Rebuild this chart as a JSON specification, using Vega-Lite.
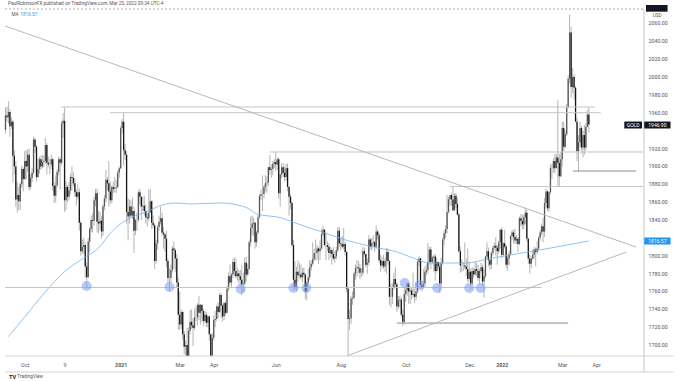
{
  "$schema": "https://vega.github.io/schema/vega-lite/v6.json",
  "width": 648,
  "height": 347,
  "autosize": {"type": "none"},
  "padding": {"left": 0, "top": 9, "right": 31, "bottom": 25},
  "background": "#ffffff",
  "config": {"view": {"stroke": null}, "font": "Roboto",
    "axisX": {"title": null, "ticks": false, "grid": false, "domain": false, "labelPadding": 6, "labelFontSize": 5.3, "labelColor": "#555555", "labelOverlap": false, "labelFlush": false},
    "axisY": {"title": null, "ticks": false, "grid": false, "domain": false, "labels": false}
  },
  "datasets": {
    "candles": [
      {"i":0,"o":1941,"h":1966,"l":1937,"c":1957},{"i":1,"o":1957,"h":1967,"l":1950,"c":1955},{"i":2,"o":1955,"h":1973,"l":1948,"c":1961},{"i":3,"o":1961,"h":1964,"l":1933,"c":1945},{"i":4,"o":1945,"h":1955,"l":1942,"c":1950},
      {"i":5,"o":1950,"h":1952,"l":1882,"c":1912},{"i":6,"o":1912,"h":1918,"l":1891,"c":1900},{"i":7,"o":1900,"h":1906,"l":1855,"c":1863},{"i":8,"o":1863,"h":1882,"l":1848,"c":1868},{"i":9,"o":1868,"h":1877,"l":1851,"c":1861},
      {"i":10,"o":1861,"h":1882,"l":1851,"c":1880},{"i":11,"o":1880,"h":1901,"l":1876,"c":1897},{"i":12,"o":1897,"h":1899,"l":1872,"c":1886},{"i":13,"o":1886,"h":1917,"l":1885,"c":1906},{"i":14,"o":1906,"h":1918,"l":1885,"c":1900},
      {"i":15,"o":1900,"h":1919,"l":1894,"c":1913},{"i":16,"o":1913,"h":1920,"l":1873,"c":1877},{"i":17,"o":1877,"h":1891,"l":1874,"c":1887},{"i":18,"o":1887,"h":1898,"l":1882,"c":1893},{"i":19,"o":1893,"h":1933,"l":1891,"c":1930},
      {"i":20,"o":1930,"h":1932,"l":1915,"c":1922},{"i":21,"o":1922,"h":1924,"l":1883,"c":1888},{"i":22,"o":1888,"h":1909,"l":1887,"c":1897},{"i":23,"o":1897,"h":1911,"l":1892,"c":1908},{"i":24,"o":1908,"h":1912,"l":1896,"c":1900},
      {"i":25,"o":1900,"h":1913,"l":1898,"c":1905},{"i":26,"o":1905,"h":1912,"l":1899,"c":1906},{"i":27,"o":1906,"h":1932,"l":1903,"c":1924},{"i":28,"o":1924,"h":1926,"l":1891,"c":1904},{"i":29,"o":1904,"h":1911,"l":1899,"c":1902},
      {"i":30,"o":1902,"h":1908,"l":1891,"c":1902},{"i":31,"o":1902,"h":1913,"l":1897,"c":1908},{"i":32,"o":1908,"h":1910,"l":1873,"c":1878},{"i":33,"o":1878,"h":1882,"l":1859,"c":1867},{"i":34,"o":1867,"h":1890,"l":1860,"c":1879},
      {"i":35,"o":1879,"h":1897,"l":1877,"c":1894},{"i":36,"o":1894,"h":1911,"l":1890,"c":1908},{"i":37,"o":1908,"h":1910,"l":1874,"c":1904},{"i":38,"o":1904,"h":1951,"l":1901,"c":1948},{"i":39,"o":1948,"h":1960,"l":1932,"c":1951},
      {"i":40,"o":1951,"h":1966,"l":1849,"c":1862},{"i":41,"o":1862,"h":1883,"l":1851,"c":1877},{"i":42,"o":1877,"h":1879,"l":1860,"c":1866},{"i":43,"o":1866,"h":1882,"l":1862,"c":1873},{"i":44,"o":1873,"h":1892,"l":1869,"c":1888},
      {"i":45,"o":1888,"h":1900,"l":1873,"c":1887},{"i":46,"o":1887,"h":1894,"l":1878,"c":1881},{"i":47,"o":1881,"h":1887,"l":1866,"c":1871},{"i":48,"o":1871,"h":1874,"l":1856,"c":1866},{"i":49,"o":1866,"h":1881,"l":1863,"c":1871},
      {"i":50,"o":1871,"h":1875,"l":1828,"c":1837},{"i":51,"o":1837,"h":1839,"l":1800,"c":1805},{"i":52,"o":1805,"h":1818,"l":1802,"c":1810},{"i":53,"o":1810,"h":1820,"l":1802,"c":1812},{"i":54,"o":1812,"h":1815,"l":1775,"c":1788},
      {"i":55,"o":1788,"h":1792,"l":1764,"c":1776},{"i":56,"o":1776,"h":1820,"l":1775,"c":1816},{"i":57,"o":1816,"h":1832,"l":1804,"c":1830},{"i":58,"o":1830,"h":1845,"l":1826,"c":1840},{"i":59,"o":1840,"h":1848,"l":1826,"c":1839},
      {"i":60,"o":1839,"h":1866,"l":1833,"c":1862},{"i":61,"o":1862,"h":1875,"l":1855,"c":1870},{"i":62,"o":1870,"h":1875,"l":1826,"c":1838},{"i":63,"o":1838,"h":1850,"l":1825,"c":1836},{"i":64,"o":1836,"h":1849,"l":1829,"c":1839},
      {"i":65,"o":1839,"h":1844,"l":1819,"c":1827},{"i":66,"o":1827,"h":1857,"l":1822,"c":1855},{"i":67,"o":1855,"h":1868,"l":1851,"c":1864},{"i":68,"o":1864,"h":1896,"l":1860,"c":1885},{"i":69,"o":1885,"h":1888,"l":1873,"c":1881},
      {"i":70,"o":1881,"h":1906,"l":1855,"c":1872},{"i":71,"o":1872,"h":1883,"l":1858,"c":1862},{"i":72,"o":1862,"h":1879,"l":1859,"c":1877},{"i":73,"o":1877,"h":1883,"l":1870,"c":1875},{"i":74,"o":1875,"h":1888,"l":1871,"c":1876},
      {"i":75,"o":1876,"h":1885,"l":1870,"c":1877},{"i":76,"o":1877,"h":1896,"l":1875,"c":1893},{"i":77,"o":1893,"h":1900,"l":1887,"c":1898},{"i":78,"o":1898,"h":1945,"l":1897,"c":1943},{"i":79,"o":1943,"h":1953,"l":1937,"c":1950},
      {"i":80,"o":1950,"h":1960,"l":1901,"c":1918},{"i":81,"o":1918,"h":1925,"l":1907,"c":1913},{"i":82,"o":1913,"h":1917,"l":1836,"c":1849},{"i":83,"o":1849,"h":1864,"l":1817,"c":1844},{"i":84,"o":1844,"h":1863,"l":1836,"c":1855},
      {"i":85,"o":1855,"h":1862,"l":1842,"c":1845},{"i":86,"o":1845,"h":1865,"l":1841,"c":1850},{"i":87,"o":1850,"h":1855,"l":1803,"c":1828},{"i":88,"o":1828,"h":1841,"l":1823,"c":1840},{"i":89,"o":1840,"h":1848,"l":1828,"c":1840},
      {"i":90,"o":1840,"h":1873,"l":1838,"c":1871},{"i":91,"o":1871,"h":1875,"l":1857,"c":1866},{"i":92,"o":1866,"h":1866,"l":1840,"c":1855},{"i":93,"o":1855,"h":1866,"l":1850,"c":1856},{"i":94,"o":1856,"h":1867,"l":1845,"c":1850},
      {"i":95,"o":1850,"h":1857,"l":1836,"c":1843},{"i":96,"o":1843,"h":1848,"l":1833,"c":1842},{"i":97,"o":1842,"h":1874,"l":1839,"c":1848},{"i":98,"o":1848,"h":1875,"l":1849,"c":1861},{"i":99,"o":1861,"h":1862,"l":1830,"c":1837},
      {"i":100,"o":1837,"h":1845,"l":1831,"c":1834},{"i":101,"o":1834,"h":1836,"l":1785,"c":1794},{"i":102,"o":1794,"h":1818,"l":1791,"c":1814},{"i":103,"o":1814,"h":1834,"l":1807,"c":1832},{"i":104,"o":1832,"h":1845,"l":1828,"c":1838},
      {"i":105,"o":1838,"h":1855,"l":1835,"c":1842},{"i":106,"o":1842,"h":1848,"l":1822,"c":1826},{"i":107,"o":1826,"h":1832,"l":1808,"c":1824},{"i":108,"o":1824,"h":1825,"l":1804,"c":1819},{"i":109,"o":1819,"h":1828,"l":1787,"c":1794},
      {"i":110,"o":1794,"h":1797,"l":1769,"c":1775},{"i":111,"o":1775,"h":1786,"l":1760,"c":1775},{"i":112,"o":1775,"h":1790,"l":1770,"c":1784},{"i":113,"o":1784,"h":1811,"l":1781,"c":1808},{"i":114,"o":1808,"h":1816,"l":1785,"c":1806},
      {"i":115,"o":1806,"h":1808,"l":1782,"c":1797},{"i":116,"o":1797,"h":1802,"l":1764,"c":1770},{"i":117,"o":1770,"h":1775,"l":1717,"c":1734},{"i":118,"o":1734,"h":1760,"l":1717,"c":1723},{"i":119,"o":1723,"h":1740,"l":1718,"c":1737},
      {"i":120,"o":1737,"h":1738,"l":1706,"c":1712},{"i":121,"o":1712,"h":1716,"l":1690,"c":1698},{"i":122,"o":1698,"h":1705,"l":1687,"c":1700},{"i":123,"o":1700,"h":1719,"l":1676,"c":1683},{"i":124,"o":1683,"h":1720,"l":1682,"c":1716},
      {"i":125,"o":1716,"h":1739,"l":1712,"c":1726},{"i":126,"o":1726,"h":1740,"l":1718,"c":1722},{"i":127,"o":1722,"h":1730,"l":1699,"c":1719},{"i":128,"o":1719,"h":1740,"l":1717,"c":1731},{"i":129,"o":1731,"h":1743,"l":1727,"c":1731},
      {"i":130,"o":1731,"h":1747,"l":1722,"c":1745},{"i":131,"o":1745,"h":1755,"l":1728,"c":1736},{"i":132,"o":1736,"h":1746,"l":1723,"c":1745},{"i":133,"o":1745,"h":1745,"l":1726,"c":1738},{"i":134,"o":1738,"h":1741,"l":1721,"c":1727},
      {"i":135,"o":1727,"h":1738,"l":1725,"c":1734},{"i":136,"o":1734,"h":1737,"l":1720,"c":1725},{"i":137,"o":1725,"h":1734,"l":1720,"c":1732},{"i":138,"o":1732,"h":1733,"l":1705,"c":1712},{"i":139,"o":1712,"h":1712,"l":1680,"c":1685},
      {"i":140,"o":1685,"h":1713,"l":1677,"c":1708},{"i":141,"o":1708,"h":1733,"l":1705,"c":1728},{"i":142,"o":1728,"h":1738,"l":1720,"c":1729},{"i":143,"o":1729,"h":1745,"l":1727,"c":1743},{"i":144,"o":1743,"h":1748,"l":1730,"c":1737},
      {"i":145,"o":1737,"h":1758,"l":1736,"c":1756},{"i":146,"o":1756,"h":1758,"l":1730,"c":1744},{"i":147,"o":1744,"h":1746,"l":1726,"c":1732},{"i":148,"o":1732,"h":1748,"l":1728,"c":1747},{"i":149,"o":1747,"h":1749,"l":1733,"c":1736},
      {"i":150,"o":1736,"h":1766,"l":1735,"c":1763},{"i":151,"o":1763,"h":1781,"l":1760,"c":1777},{"i":152,"o":1777,"h":1790,"l":1767,"c":1770},{"i":153,"o":1770,"h":1781,"l":1764,"c":1779},{"i":154,"o":1779,"h":1797,"l":1775,"c":1793},
      {"i":155,"o":1793,"h":1798,"l":1777,"c":1783},{"i":156,"o":1783,"h":1797,"l":1775,"c":1777},{"i":157,"o":1777,"h":1787,"l":1772,"c":1780},{"i":158,"o":1780,"h":1784,"l":1769,"c":1777},{"i":159,"o":1777,"h":1784,"l":1766,"c":1773},
      {"i":160,"o":1773,"h":1790,"l":1756,"c":1768},{"i":161,"o":1768,"h":1781,"l":1759,"c":1769},{"i":162,"o":1769,"h":1798,"l":1767,"c":1792},{"i":163,"o":1792,"h":1799,"l":1771,"c":1779},{"i":164,"o":1779,"h":1791,"l":1777,"c":1785},
      {"i":165,"o":1785,"h":1818,"l":1784,"c":1815},{"i":166,"o":1815,"h":1844,"l":1810,"c":1831},{"i":167,"o":1831,"h":1845,"l":1823,"c":1836},{"i":168,"o":1836,"h":1843,"l":1822,"c":1837},{"i":169,"o":1837,"h":1838,"l":1808,"c":1815},
      {"i":170,"o":1815,"h":1828,"l":1810,"c":1826},{"i":171,"o":1826,"h":1846,"l":1824,"c":1843},{"i":172,"o":1843,"h":1869,"l":1842,"c":1867},{"i":173,"o":1867,"h":1874,"l":1862,"c":1869},{"i":174,"o":1869,"h":1890,"l":1850,"c":1869},
      {"i":175,"o":1869,"h":1879,"l":1864,"c":1877},{"i":176,"o":1877,"h":1890,"l":1872,"c":1881},{"i":177,"o":1881,"h":1889,"l":1870,"c":1882},{"i":178,"o":1882,"h":1900,"l":1878,"c":1899},{"i":179,"o":1899,"h":1913,"l":1891,"c":1896},
      {"i":180,"o":1896,"h":1902,"l":1887,"c":1897},{"i":181,"o":1897,"h":1906,"l":1890,"c":1903},{"i":182,"o":1903,"h":1908,"l":1898,"c":1905},{"i":183,"o":1905,"h":1916,"l":1895,"c":1902},{"i":184,"o":1902,"h":1910,"l":1896,"c":1908},
      {"i":185,"o":1908,"h":1910,"l":1864,"c":1870},{"i":186,"o":1870,"h":1892,"l":1855,"c":1891},{"i":187,"o":1891,"h":1903,"l":1887,"c":1899},{"i":188,"o":1899,"h":1904,"l":1888,"c":1893},{"i":189,"o":1893,"h":1900,"l":1883,"c":1888},
      {"i":190,"o":1888,"h":1903,"l":1884,"c":1898},{"i":191,"o":1898,"h":1903,"l":1872,"c":1877},{"i":192,"o":1877,"h":1878,"l":1845,"c":1866},{"i":193,"o":1866,"h":1869,"l":1852,"c":1859},{"i":194,"o":1859,"h":1861,"l":1810,"c":1812},
      {"i":195,"o":1812,"h":1818,"l":1762,"c":1773},{"i":196,"o":1773,"h":1794,"l":1761,"c":1764},{"i":197,"o":1764,"h":1788,"l":1760,"c":1782},{"i":198,"o":1782,"h":1795,"l":1771,"c":1778},{"i":199,"o":1778,"h":1792,"l":1775,"c":1779},
      {"i":200,"o":1779,"h":1790,"l":1773,"c":1776},{"i":201,"o":1776,"h":1786,"l":1770,"c":1781},{"i":202,"o":1781,"h":1787,"l":1775,"c":1779},{"i":203,"o":1779,"h":1780,"l":1751,"c":1760},{"i":204,"o":1760,"h":1771,"l":1750,"c":1770},
      {"i":205,"o":1770,"h":1785,"l":1766,"c":1776},{"i":206,"o":1776,"h":1795,"l":1773,"c":1787},{"i":207,"o":1787,"h":1795,"l":1783,"c":1791},{"i":208,"o":1791,"h":1815,"l":1789,"c":1796},{"i":209,"o":1796,"h":1808,"l":1794,"c":1803},
      {"i":210,"o":1803,"h":1818,"l":1795,"c":1803},{"i":211,"o":1803,"h":1812,"l":1795,"c":1808},{"i":212,"o":1808,"h":1810,"l":1791,"c":1805},{"i":213,"o":1805,"h":1817,"l":1795,"c":1808},{"i":214,"o":1808,"h":1830,"l":1807,"c":1824},
      {"i":215,"o":1824,"h":1834,"l":1822,"c":1829},{"i":216,"o":1829,"h":1830,"l":1810,"c":1812},{"i":217,"o":1812,"h":1826,"l":1795,"c":1812},{"i":218,"o":1812,"h":1816,"l":1805,"c":1810},{"i":219,"o":1810,"h":1814,"l":1795,"c":1803},
      {"i":220,"o":1803,"h":1810,"l":1798,"c":1806},{"i":221,"o":1806,"h":1808,"l":1790,"c":1802},{"i":222,"o":1802,"h":1810,"l":1795,"c":1797},{"i":223,"o":1797,"h":1805,"l":1792,"c":1799},{"i":224,"o":1799,"h":1810,"l":1796,"c":1806},
      {"i":225,"o":1806,"h":1832,"l":1804,"c":1828},{"i":226,"o":1828,"h":1832,"l":1810,"c":1814},{"i":227,"o":1814,"h":1820,"l":1806,"c":1813},{"i":228,"o":1813,"h":1822,"l":1808,"c":1810},{"i":229,"o":1810,"h":1831,"l":1807,"c":1813},
      {"i":230,"o":1813,"h":1816,"l":1800,"c":1804},{"i":231,"o":1804,"h":1806,"l":1759,"c":1763},{"i":232,"o":1763,"h":1765,"l":1684,"c":1729},{"i":233,"o":1729,"h":1740,"l":1717,"c":1730},{"i":234,"o":1730,"h":1755,"l":1724,"c":1752},
      {"i":235,"o":1752,"h":1760,"l":1745,"c":1753},{"i":236,"o":1753,"h":1782,"l":1751,"c":1780},{"i":237,"o":1780,"h":1790,"l":1773,"c":1786},{"i":238,"o":1786,"h":1795,"l":1776,"c":1787},{"i":239,"o":1787,"h":1794,"l":1780,"c":1786},
      {"i":240,"o":1786,"h":1791,"l":1774,"c":1781},{"i":241,"o":1781,"h":1786,"l":1776,"c":1781},{"i":242,"o":1781,"h":1810,"l":1778,"c":1805},{"i":243,"o":1805,"h":1809,"l":1799,"c":1802},{"i":244,"o":1802,"h":1802,"l":1787,"c":1790},
      {"i":245,"o":1790,"h":1797,"l":1780,"c":1792},{"i":246,"o":1792,"h":1823,"l":1789,"c":1818},{"i":247,"o":1818,"h":1820,"l":1807,"c":1810},{"i":248,"o":1810,"h":1820,"l":1806,"c":1814},{"i":249,"o":1814,"h":1823,"l":1810,"c":1815},
      {"i":250,"o":1815,"h":1817,"l":1804,"c":1810},{"i":251,"o":1810,"h":1834,"l":1808,"c":1827},{"i":252,"o":1827,"h":1829,"l":1818,"c":1823},{"i":253,"o":1823,"h":1825,"l":1792,"c":1795},{"i":254,"o":1795,"h":1801,"l":1782,"c":1789},
      {"i":255,"o":1789,"h":1799,"l":1786,"c":1794},{"i":256,"o":1794,"h":1801,"l":1785,"c":1788},{"i":257,"o":1788,"h":1797,"l":1782,"c":1794},{"i":258,"o":1794,"h":1809,"l":1780,"c":1804},{"i":259,"o":1804,"h":1808,"l":1790,"c":1794},
      {"i":260,"o":1794,"h":1795,"l":1745,"c":1754},{"i":261,"o":1754,"h":1769,"l":1742,"c":1754},{"i":262,"o":1754,"h":1769,"l":1746,"c":1764},{"i":263,"o":1764,"h":1781,"l":1762,"c":1774},{"i":264,"o":1774,"h":1787,"l":1764,"c":1768},
      {"i":265,"o":1768,"h":1770,"l":1737,"c":1743},{"i":266,"o":1743,"h":1755,"l":1740,"c":1750},{"i":267,"o":1750,"h":1755,"l":1742,"c":1751},{"i":268,"o":1751,"h":1754,"l":1731,"c":1734},{"i":269,"o":1734,"h":1740,"l":1721,"c":1726},
      {"i":270,"o":1726,"h":1764,"l":1723,"c":1757},{"i":271,"o":1757,"h":1765,"l":1748,"c":1761},{"i":272,"o":1761,"h":1770,"l":1755,"c":1769},{"i":273,"o":1769,"h":1770,"l":1746,"c":1760},{"i":274,"o":1760,"h":1765,"l":1746,"c":1761},
      {"i":275,"o":1761,"h":1764,"l":1751,"c":1756},{"i":276,"o":1756,"h":1781,"l":1753,"c":1757},{"i":277,"o":1757,"h":1763,"l":1747,"c":1754},{"i":278,"o":1754,"h":1770,"l":1750,"c":1760},{"i":279,"o":1760,"h":1796,"l":1758,"c":1793},
      {"i":280,"o":1793,"h":1800,"l":1788,"c":1797},{"i":281,"o":1797,"h":1797,"l":1763,"c":1767},{"i":282,"o":1767,"h":1772,"l":1760,"c":1765},{"i":283,"o":1765,"h":1785,"l":1763,"c":1769},{"i":284,"o":1769,"h":1788,"l":1765,"c":1782},
      {"i":285,"o":1782,"h":1790,"l":1778,"c":1784},{"i":286,"o":1784,"h":1814,"l":1780,"c":1793},{"i":287,"o":1793,"h":1810,"l":1790,"c":1807},{"i":288,"o":1807,"h":1810,"l":1785,"c":1793},{"i":289,"o":1793,"h":1800,"l":1790,"c":1798},
      {"i":290,"o":1798,"h":1801,"l":1782,"c":1799},{"i":291,"o":1799,"h":1802,"l":1772,"c":1783},{"i":292,"o":1783,"h":1798,"l":1781,"c":1793},{"i":293,"o":1793,"h":1794,"l":1783,"c":1788},{"i":294,"o":1788,"h":1792,"l":1758,"c":1769},
      {"i":295,"o":1769,"h":1798,"l":1766,"c":1792},{"i":296,"o":1792,"h":1820,"l":1790,"c":1818},{"i":297,"o":1818,"h":1828,"l":1812,"c":1825},{"i":298,"o":1825,"h":1834,"l":1820,"c":1830},{"i":299,"o":1830,"h":1868,"l":1825,"c":1849},
      {"i":300,"o":1849,"h":1866,"l":1847,"c":1863},{"i":301,"o":1863,"h":1868,"l":1856,"c":1868},{"i":302,"o":1868,"h":1870,"l":1856,"c":1863},{"i":303,"o":1863,"h":1877,"l":1850,"c":1851},{"i":304,"o":1851,"h":1870,"l":1850,"c":1867},
      {"i":305,"o":1867,"h":1870,"l":1853,"c":1858},{"i":306,"o":1858,"h":1865,"l":1845,"c":1846},{"i":307,"o":1846,"h":1848,"l":1803,"c":1805},{"i":308,"o":1805,"h":1810,"l":1781,"c":1789},{"i":309,"o":1789,"h":1796,"l":1782,"c":1789},
      {"i":310,"o":1789,"h":1793,"l":1783,"c":1789},{"i":311,"o":1789,"h":1815,"l":1785,"c":1788},{"i":312,"o":1788,"h":1797,"l":1777,"c":1785},{"i":313,"o":1785,"h":1808,"l":1770,"c":1774},{"i":314,"o":1774,"h":1793,"l":1771,"c":1782},
      {"i":315,"o":1782,"h":1786,"l":1762,"c":1769},{"i":316,"o":1769,"h":1787,"l":1767,"c":1783},{"i":317,"o":1783,"h":1786,"l":1775,"c":1779},{"i":318,"o":1779,"h":1793,"l":1778,"c":1785},{"i":319,"o":1785,"h":1792,"l":1777,"c":1783},
      {"i":320,"o":1783,"h":1790,"l":1772,"c":1775},{"i":321,"o":1775,"h":1785,"l":1768,"c":1783},{"i":322,"o":1783,"h":1792,"l":1781,"c":1787},{"i":323,"o":1787,"h":1790,"l":1766,"c":1771},{"i":324,"o":1771,"h":1785,"l":1753,"c":1777},
      {"i":325,"o":1777,"h":1800,"l":1775,"c":1799},{"i":326,"o":1799,"h":1815,"l":1797,"c":1805},{"i":327,"o":1805,"h":1809,"l":1788,"c":1795},{"i":328,"o":1795,"h":1797,"l":1784,"c":1790},{"i":329,"o":1790,"h":1805,"l":1785,"c":1803},
      {"i":330,"o":1803,"h":1811,"l":1800,"c":1809},{"i":331,"o":1809,"h":1815,"l":1806,"c":1811},{"i":332,"o":1811,"h":1821,"l":1800,"c":1809},{"i":333,"o":1809,"h":1812,"l":1790,"c":1805},{"i":334,"o":1805,"h":1817,"l":1802,"c":1815},
      {"i":335,"o":1815,"h":1830,"l":1808,"c":1829},{"i":336,"o":1829,"h":1832,"l":1797,"c":1801},{"i":337,"o":1801,"h":1815,"l":1799,"c":1814},{"i":338,"o":1814,"h":1829,"l":1808,"c":1810},{"i":339,"o":1810,"h":1812,"l":1786,"c":1790},
      {"i":340,"o":1790,"h":1800,"l":1783,"c":1797},{"i":341,"o":1797,"h":1805,"l":1789,"c":1802},{"i":342,"o":1802,"h":1823,"l":1800,"c":1822},{"i":343,"o":1822,"h":1829,"l":1818,"c":1826},{"i":344,"o":1826,"h":1829,"l":1814,"c":1821},
      {"i":345,"o":1821,"h":1830,"l":1813,"c":1817},{"i":346,"o":1817,"h":1823,"l":1813,"c":1819},{"i":347,"o":1819,"h":1821,"l":1804,"c":1813},{"i":348,"o":1813,"h":1844,"l":1812,"c":1842},{"i":349,"o":1842,"h":1847,"l":1833,"c":1839},
      {"i":350,"o":1839,"h":1846,"l":1830,"c":1835},{"i":351,"o":1835,"h":1846,"l":1829,"c":1843},{"i":352,"o":1843,"h":1853,"l":1835,"c":1848},{"i":353,"o":1848,"h":1851,"l":1816,"c":1819},{"i":354,"o":1819,"h":1820,"l":1791,"c":1797},
      {"i":355,"o":1797,"h":1801,"l":1780,"c":1791},{"i":356,"o":1791,"h":1799,"l":1786,"c":1797},{"i":357,"o":1797,"h":1807,"l":1795,"c":1801},{"i":358,"o":1801,"h":1810,"l":1797,"c":1807},{"i":359,"o":1807,"h":1809,"l":1788,"c":1804},
      {"i":360,"o":1804,"h":1816,"l":1802,"c":1808},{"i":361,"o":1808,"h":1822,"l":1806,"c":1820},{"i":362,"o":1820,"h":1829,"l":1817,"c":1826},{"i":363,"o":1826,"h":1836,"l":1823,"c":1833},{"i":364,"o":1833,"h":1842,"l":1815,"c":1827},
      {"i":365,"o":1827,"h":1865,"l":1821,"c":1859},{"i":366,"o":1859,"h":1875,"l":1854,"c":1872},{"i":367,"o":1872,"h":1873,"l":1850,"c":1853},{"i":368,"o":1853,"h":1872,"l":1849,"c":1871},{"i":369,"o":1871,"h":1902,"l":1869,"c":1898},
      {"i":370,"o":1898,"h":1903,"l":1886,"c":1898},{"i":371,"o":1898,"h":1909,"l":1893,"c":1906},{"i":372,"o":1906,"h":1914,"l":1892,"c":1898},{"i":373,"o":1898,"h":1914,"l":1898,"c":1910},{"i":374,"o":1910,"h":1974,"l":1878,"c":1904},
      {"i":375,"o":1904,"h":1914,"l":1878,"c":1889},{"i":376,"o":1889,"h":1916,"l":1888,"c":1908},{"i":377,"o":1908,"h":1950,"l":1900,"c":1943},{"i":378,"o":1943,"h":1950,"l":1917,"c":1922},{"i":379,"o":1922,"h":1940,"l":1920,"c":1936},
      {"i":380,"o":1936,"h":1970,"l":1934,"c":1966},{"i":381,"o":1966,"h":2002,"l":1966,"c":1998},{"i":382,"o":1998,"h":2070,"l":1993,"c":2050},{"i":383,"o":2050,"h":2056,"l":1977,"c":1989},{"i":384,"o":1989,"h":2010,"l":1982,"c":2000},
      {"i":385,"o":2000,"h":2003,"l":1975,"c":1988},{"i":386,"o":1988,"h":1990,"l":1950,"c":1950},{"i":387,"o":1950,"h":1954,"l":1906,"c":1917},{"i":388,"o":1917,"h":1935,"l":1895,"c":1927},{"i":389,"o":1927,"h":1950,"l":1922,"c":1943},
      {"i":390,"o":1943,"h":1945,"l":1917,"c":1921},{"i":391,"o":1921,"h":1940,"l":1910,"c":1935},{"i":392,"o":1935,"h":1946,"l":1913,"c":1921},{"i":393,"o":1921,"h":1948,"l":1918,"c":1944},{"i":394,"o":1944,"h":1963,"l":1944,"c":1958},
      {"i":395,"o":1958,"h":1966,"l":1938,"c":1946.9}
    ],
    "ma": [
      {"i":1.9,"p":1709.3},{"i":13,"p":1731.3},{"i":26.3,"p":1758.2},{"i":39.7,"p":1781.7},{"i":53,"p":1797.4},{"i":63,"p":1808.6},
      {"i":71.7,"p":1826.5},{"i":81.7,"p":1840},{"i":95,"p":1848.9},{"i":106.3,"p":1856.8},{"i":115,"p":1859},{"i":125,"p":1857.9},
      {"i":145.7,"p":1859},{"i":157,"p":1856.8},{"i":163.7,"p":1853.4},{"i":170.3,"p":1846.7},{"i":187,"p":1842.2},{"i":194.3,"p":1837.7},
      {"i":214.3,"p":1826.5},{"i":230.3,"p":1817.6},{"i":249,"p":1809.7},{"i":263,"p":1805.2},{"i":276.3,"p":1797.4},{"i":287.7,"p":1791.8},
      {"i":301,"p":1791.8},{"i":311,"p":1791.8},{"i":329.7,"p":1797.4},{"i":349.7,"p":1803},{"i":373,"p":1809.7},{"i":395,"p":1816.57}
    ],
    "levels": [
      {"i1":37.5,"i2":399,"p":1966.5,"grp":"main"},
      {"i1":70.8,"i2":403,"p":1960.1,"grp":"main"},
      {"i1":179,"i2":431.667,"p":1916.1,"grp":"main"},
      {"i1":301,"i2":431.667,"p":1877.5,"grp":"main"},
      {"i1":384.3,"i2":427,"p":1894.8,"grp":"recent"},
      {"i1":-0.333,"i2":363,"p":1764.4,"grp":"main"},
      {"i1":265,"i2":381,"p":1724.6,"grp":"recent"}
    ],
    "trends": [
      {"i1":-0.333,"p1":2057.2,"i2":427,"p2":1809.7},
      {"i1":231,"p1":1687.7,"i2":420.3,"p2":1804.1}
    ],
    "touches": [
      {"i":55,"p":1766.0},{"i":111,"p":1764.9},{"i":159.3,"p":1762.7},{"i":195,"p":1763.8},{"i":203.7,"p":1763.8},
      {"i":270.3,"p":1769.4},{"i":280.3,"p":1767.2},{"i":292.3,"p":1763.8},{"i":314,"p":1763.8},{"i":321.7,"p":1763.8}
    ],
    "priceTicks": [
      {"p":1700},{"p":1720},{"p":1740},{"p":1760},{"p":1780},{"p":1800},{"p":1840},{"p":1860},{"p":1880},
      {"p":1900},{"p":1920},{"p":1960},{"p":1980},{"p":2000},{"p":2020},{"p":2040},{"p":2060}
    ],
    "notes": [
      {"t":"PaulRobinsonFX published on TradingView.com, Mar 25, 2022 09:34 UTC-4","x":1.7,"p":2081.6,"role":"header"},
      {"t":"MA","x":4,"p":2069.5,"role":"header"},
      {"t":"1816.57","x":10,"p":2069.5,"role":"ma"},
      {"t":"USD","x":438.3,"p":2068.6,"role":"header"},
      {"t":"TradingView","x":8,"p":1664.5,"role":"header"}
    ]
  },
  "layer": [
    {
      "data": {"name": "candles"},
      "mark": {"type": "rule", "color": "#b4b4b4", "strokeWidth": 1, "clip": true},
      "encoding": {
        "x": {"field": "i", "type": "quantitative", "scale": {"domain": [-0.333, 431.667], "nice": false, "zero": false},
          "axis": {"title": null, "orient": "bottom", "labelOverlap": false, "values": [13, 40, 78, 118, 141, 183, 227, 271, 314, 336, 377, 400],
            "labelExpr": "datum.value == 13 ? 'Oct' : datum.value == 40 ? '9' : datum.value == 78 ? '2021' : datum.value == 118 ? 'Mar' : datum.value == 141 ? 'Apr' : datum.value == 183 ? 'Jun' : datum.value == 227 ? 'Aug' : datum.value == 271 ? 'Oct' : datum.value == 314 ? 'Dec' : datum.value == 336 ? '2022' : datum.value == 377 ? 'Mar' : 'Apr'",
            "labelFontWeight": {"condition": {"test": "datum.value == 78 || datum.value == 336", "value": "bold"}, "value": "normal"}}},
        "y": {"field": "l", "type": "quantitative", "scale": {"domain": [1687.7, 2076.2], "nice": false, "zero": false},
          "axis": {"title": null, "orient": "right", "labels": false}},
        "y2": {"field": "h"}
      }
    },
    {
      "data": {"name": "candles"},
      "mark": {"type": "bar", "size": 1.3, "clip": true},
      "encoding": {
        "x": {"field": "i", "type": "quantitative"},
        "y": {"field": "o", "type": "quantitative"},
        "y2": {"field": "c"},
        "color": {"condition": {"test": "datum.c >= datum.o", "value": "#555555"}, "value": "#151515"}
      }
    },
    {
      "data": {"name": "ma"},
      "mark": {"type": "line", "color": "#6cb6f5", "strokeWidth": 0.8, "interpolate": "monotone"},
      "encoding": {
        "x": {"field": "i", "type": "quantitative"},
        "y": {"field": "p", "type": "quantitative"}
      }
    },
    {
      "data": {"name": "levels"},
      "mark": {"type": "rule", "strokeWidth": 1},
      "encoding": {
        "x": {"field": "i1", "type": "quantitative"},
        "x2": {"field": "i2"},
        "y": {"field": "p", "type": "quantitative"},
        "color": {"condition": {"test": "datum.grp == 'recent'", "value": "#8c8c8c"}, "value": "#c4c4c4"}
      }
    },
    {
      "data": {"name": "trends"},
      "mark": {"type": "rule", "strokeWidth": 1, "color": "#b8b8b8", "clip": true},
      "encoding": {
        "x": {"field": "i1", "type": "quantitative"},
        "x2": {"field": "i2"},
        "y": {"field": "p1", "type": "quantitative"},
        "y2": {"field": "p2"}
      }
    },
    {
      "data": {"name": "touches"},
      "mark": {"type": "circle", "size": 100, "color": "#7c9cf2", "opacity": 0.55},
      "encoding": {
        "x": {"field": "i", "type": "quantitative"},
        "y": {"field": "p", "type": "quantitative"}
      }
    },
    {
      "data": {"values": [{"a": -0.333, "b": 432, "p": 2076.2}]},
      "mark": {"type": "rule", "color": "#9a9a9a", "strokeWidth": 0.8, "strokeDash": [2, 2]},
      "encoding": {"x": {"field": "a", "type": "quantitative"}, "x2": {"field": "b"}, "y": {"field": "p", "type": "quantitative"}}
    },
    {
      "data": {"values": [{"a": 432.33, "p1": 2076.2, "p2": 1669.8}]},
      "mark": {"type": "rule", "color": "#c8c8c8", "strokeWidth": 1},
      "encoding": {"x": {"field": "a", "type": "quantitative"}, "y": {"field": "p1", "type": "quantitative"}, "y2": {"field": "p2"}}
    },
    {
      "data": {"values": [{"a": -0.333, "b": 452.33, "p": 1687.7}, {"a": -0.333, "b": 452.33, "p": 1669.8}]},
      "mark": {"type": "rule", "color": "#d2d2d2", "strokeWidth": 1},
      "encoding": {"x": {"field": "a", "type": "quantitative"}, "x2": {"field": "b"}, "y": {"field": "p", "type": "quantitative"}}
    },
    {
      "data": {"name": "priceTicks"},
      "mark": {"type": "text", "color": "#555555", "fontSize": 5.3, "align": "left", "baseline": "middle", "dx": 4.5},
      "encoding": {
        "x": {"datum": 432.33, "type": "quantitative"},
        "y": {"field": "p", "type": "quantitative"},
        "text": {"field": "p", "type": "quantitative", "format": ".2f"}
      }
    },
    {
      "data": {"values": [{"a": 419, "b": 431, "p1": 1950.2, "p2": 1942.4, "k": "dark"}, {"a": 432.5, "b": 450.3, "p1": 1950.2, "p2": 1942.4, "k": "dark"}, {"a": 432.5, "b": 450.3, "p1": 1820.4, "p2": 1812.5, "k": "ma"}, {"a": 433.7, "b": 448.3, "p1": 2080.7, "p2": 2073.2, "k": "dark"}]},
      "mark": {"type": "rect"},
      "encoding": {
        "x": {"field": "a", "type": "quantitative"}, "x2": {"field": "b"},
        "y": {"field": "p1", "type": "quantitative"}, "y2": {"field": "p2"},
        "color": {"condition": {"test": "datum.k == 'ma'", "value": "#2196f3"}, "value": "#131722"}
      }
    },
    {
      "data": {"values": [{"t": "GOLD", "x": 425, "p": 1946.3}, {"t": "1946.90", "x": 441.4, "p": 1946.3}, {"t": "1816.57", "x": 441.4, "p": 1816.45}]},
      "mark": {"type": "text", "color": "#ffffff", "fontSize": 5, "align": "center", "baseline": "middle"},
      "encoding": {"x": {"field": "x", "type": "quantitative"}, "y": {"field": "p", "type": "quantitative"}, "text": {"field": "t"}}
    },
    {
      "data": {"name": "notes"},
      "mark": {"type": "text", "fontSize": 4.7, "align": "left", "baseline": "middle"},
      "encoding": {
        "x": {"field": "x", "type": "quantitative"},
        "y": {"field": "p", "type": "quantitative"},
        "text": {"field": "t"},
        "color": {"condition": {"test": "datum.role == 'ma'", "value": "#2196f3"}, "value": "#555555"}
      }
    },
    {
      "data": {"values": [{"t": "TV", "x": 2.4, "p": 1664.5}]},
      "mark": {"type": "text", "color": "#131722", "fontSize": 5.5, "fontWeight": "bold", "align": "left", "baseline": "middle"},
      "encoding": {"x": {"field": "x", "type": "quantitative"}, "y": {"field": "p", "type": "quantitative"}, "text": {"field": "t"}}
    }
  ]
}
